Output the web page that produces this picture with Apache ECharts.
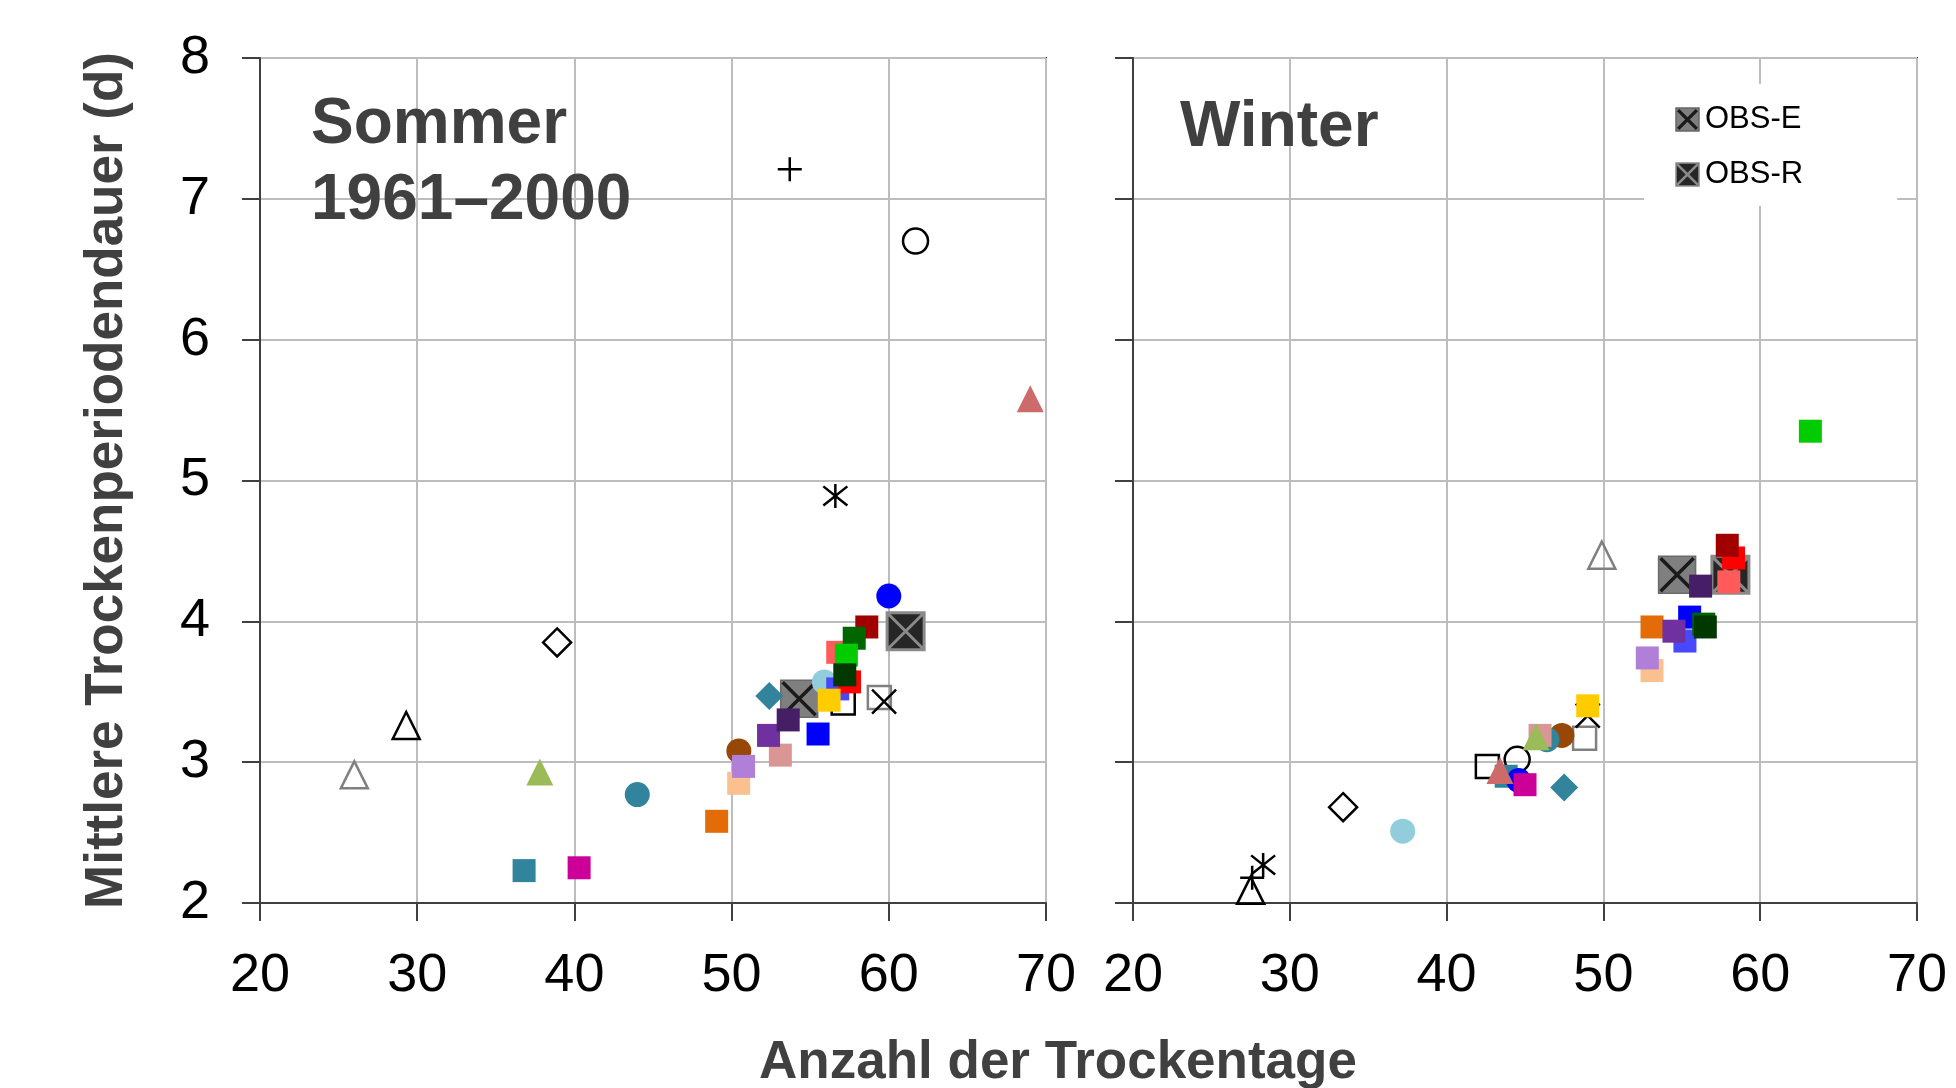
<!DOCTYPE html>
<html><head><meta charset="utf-8">
<script src="https://cdn.jsdelivr.net/npm/echarts@6/dist/echarts.min.js"></script>
<style>html,body{margin:0;padding:0;background:#fff}#c{width:1956px;height:1088px}</style>
</head><body><div id="c"></div>
<script>
// ---------- data ----------
const xTicks = [20, 30, 40, 50, 60, 70];
const yTicks = [2, 3, 4, 5, 6, 7, 8];
const panels = ['Sommer\n1961–2000', 'Winter'];
const xTitle = 'Anzahl der Trockentage';
const yTitle = 'Mittlere Trockenperiodendauer (d)';
const models = ['dunkelrot', 'rot', 'hellrot', 'dunkelgrün', 'grün', 'sehr dunkelgrün', 'blau', 'mittelblau', 'gelb',
  'dunkelviolett', 'violett', 'lavendel', 'rosa', 'pfirsich', 'orange', 'magenta', 'petrol Quadrat', 'petrol Raute',
  'petrol Kreis', 'braun Kreis', 'hellblau Kreis', 'blau Kreis', 'hellgrün Dreieck', 'altrosa Dreieck',
  'offener Kreis', 'offenes Quadrat', 'offenes Quadrat grau', 'offenes Dreieck', 'offenes Dreieck grau',
  'offene Raute', 'Plus', 'Kreuz', 'Stern'];
const summerX = [58.6, 57.5, 56.75, 57.8, 57.3, 57.2, 55.5, 56.75, 56.2, 53.6, 52.35, 50.76, 53.1, 50.45, 49.05, 40.3, 36.8, 52.4,
  44.0, 50.46, 55.9, 60.0, 37.8, 69.0, 61.7, 57.1, 59.4, 29.3, 26.0, 38.9, 53.7, 59.7, 56.6];
const summerY = [3.96, 3.57, 3.78, 3.88, 3.76, 3.62, 3.20, 3.52, 3.44, 3.30, 3.19, 2.97, 3.05, 2.85, 2.58, 2.25, 2.23, 3.47,
  2.77, 3.08, 3.57, 4.18, 2.93, 5.58, 6.70, 3.42, 3.46, 3.26, 2.91, 3.85, 7.21, 3.43, 4.89];
const winterX = [57.9, 58.3, 58.0, 56.4, 63.2, 56.5, 55.5, 55.2, 49.0, 56.2, 54.5, 52.8, 45.96, 53.1, 53.1, 45.0, 43.8, 47.5,
  46.4, 47.35, 37.2, 44.6, 45.7, 43.4, 44.5, 42.6, 48.8, 27.5, 49.9, 33.4, 27.6, 49.0, 28.3];
const winterY = [4.54, 4.45, 4.28, 3.98, 5.35, 3.96, 4.03, 3.86, 3.40, 4.25, 3.93, 3.74, 3.19, 3.65, 3.96, 2.84, 2.90, 2.82,
  3.16, 3.19, 2.51, 2.87, 3.18, 2.94, 3.02, 2.97, 3.17, 2.09, 4.47, 2.68, 2.18, 3.33, 2.27];
const obsNames = ['OBS-E', 'OBS-R'];
const obsSummer = [[54.3, 3.45], [61.07, 3.93]];
const obsWinter = [[54.7, 4.33], [58.1, 4.33]];

// ---------- styles ----------
const P_PLUS = 'path://M10,0L10,20M0,10L20,10';
const P_X = 'path://M0,0L20,20M20,0L0,20';
const P_STAR = 'path://M2,2L18,18M18,2L2,18M10,0L10,20';
const P_BOXX = 'path://M0,0L20,0L20,20L0,20ZM0,0L20,20M20,0L0,20';
const markerStyle = [
  ['rect', '#a00000'], ['rect', '#ff0000'], ['rect', '#ff5b5b'], ['rect', '#006600'], ['rect', '#00cc00'],
  ['rect', '#003800'], ['rect', '#0000ff'], ['rect', '#4848ff'], ['rect', '#ffcc00'], ['rect', '#461e66'],
  ['rect', '#7030a0'], ['rect', '#b07fd8'], ['rect', '#d99694'], ['rect', '#fac090'], ['rect', '#e36c09'],
  ['rect', '#cc0099'], ['rect', '#31849b'], ['diamond', '#31849b'], ['circle', '#31849b'], ['circle', '#974806'],
  ['circle', '#92cddc'], ['circle', '#0000ff'], ['triangle', '#9bbb59'], ['triangle', '#cd6b6b'],
  ['circle', '#000', true], ['rect', '#000', true], ['rect', '#808080', true], ['triangle', '#000', true],
  ['triangle', '#808080', true], ['diamond', '#000', true], [P_PLUS, '#000', true], [P_X, '#000', true], [P_STAR, '#000', true]
];
const symSize = { rect: 23, circle: 25, diamond: 28, triangle: 27 };
const drawOrder = [24, 25, 26, 27, 28, 29, 30, 31, 32, 16, 21, 15, 23, 19, 18, 12, 22, 17, 20, 13, 11, 14, 7, 6, 1, 2, 0, 3, 4, 5, 8, 10, 9];

const FONT = '"Liberation Sans", Arial, sans-serif';
const svgIcon = s => 'image://data:image/svg+xml;charset=utf-8,' + encodeURIComponent(s);
const iconE = svgIcon("<svg xmlns='http://www.w3.org/2000/svg' width='24' height='24'><rect x='1' y='1' width='22' height='22' fill='#7f7f7f' stroke='#666' stroke-width='1.5'/><path d='M3,3L21,21M21,3L3,21' stroke='#1a1a1a' stroke-width='3.2'/></svg>");
const iconR = svgIcon("<svg xmlns='http://www.w3.org/2000/svg' width='24' height='24'><rect x='1' y='1' width='22' height='22' fill='#262626' stroke='#8a8a8a' stroke-width='1.5'/><path d='M2,2L22,22M22,2L2,22' stroke='#8a8a8a' stroke-width='2.6'/></svg>");

const series = [];
[0, 1].forEach(p => {
  const obs = p === 0 ? obsSummer : obsWinter;
  const base = { type: 'scatter', xAxisIndex: p, yAxisIndex: p, silent: true, animation: false };
  series.push(Object.assign({}, base, { name: obsNames[0], symbol: 'rect', symbolSize: 37, data: [obs[0]],
    itemStyle: { color: '#7f7f7f', borderColor: '#6a6a6a', borderWidth: 1.5, opacity: 1 } }));
  series.push(Object.assign({}, base, { name: obsNames[0] + ' x', symbol: P_X, symbolSize: 33, data: [obs[0]],
    itemStyle: { color: 'rgba(0,0,0,0)', borderColor: '#1a1a1a', borderWidth: 3.5, opacity: 1 } }));
  series.push(Object.assign({}, base, { name: obsNames[1], symbol: P_BOXX, symbolSize: 37, data: [obs[1]],
    itemStyle: { color: '#262626', borderColor: '#8a8a8a', borderWidth: 3, opacity: 1 } }));
  drawOrder.forEach(i => {
    const st = markerStyle[i];
    const hollow = !!st[2];
    const sz = symSize[st[0]] || 24;
    const pt = p === 0 ? [summerX[i], summerY[i]] : [winterX[i], winterY[i]];
    series.push(Object.assign({}, base, {
      name: models[i], symbol: st[0], symbolSize: sz, data: [pt],
      itemStyle: hollow ? { color: 'rgba(0,0,0,0)', borderColor: st[1], borderWidth: 2.5, opacity: 1 }
                        : { color: st[1], opacity: 1 }
    }));
  });
});

const grids = [
  { left: 260, right: 910, top: 58, bottom: 185 },
  { left: 1133, right: 39, top: 58, bottom: 185 }
];
const axisLine = { show: true, lineStyle: { color: '#404040', width: 2 } };
const gridLine = { show: true, lineStyle: { color: '#bdbdbd', width: 2 } };

const option = {
  backgroundColor: '#fff',
  animation: false,
  grid: grids.map(g => Object.assign({ show: true, borderColor: '#404040', borderWidth: 2, backgroundColor: 'transparent' }, g)),
  xAxis: [0, 1].map(p => ({
    type: 'value', gridIndex: p, min: xTicks[0], max: xTicks[xTicks.length - 1], interval: xTicks[1] - xTicks[0],
    axisLine, axisTick: { show: true, length: 18, lineStyle: { color: '#404040', width: 2 } },
    splitLine: gridLine,
    axisLabel: { fontSize: 54, color: '#000', fontFamily: FONT, margin: 46 }
  })),
  yAxis: [0, 1].map(p => ({
    type: 'value', gridIndex: p, min: yTicks[0], max: yTicks[yTicks.length - 1], interval: yTicks[1] - yTicks[0],
    axisLine, axisTick: { show: true, length: 18, lineStyle: { color: '#404040', width: 2 } },
    splitLine: gridLine,
    axisLabel: { show: p === 0, fontSize: 54, color: '#000', fontFamily: FONT, margin: 50 },
    name: p === 0 ? yTitle : '', nameLocation: 'middle', nameGap: 126, nameRotate: 90,
    nameTextStyle: { fontSize: 53, fontWeight: 'bold', color: '#404040', fontFamily: FONT }
  })),
  legend: {
    data: [{ name: obsNames[0], icon: iconE }, { name: obsNames[1], icon: iconR }],
    orient: 'vertical', left: 1644, top: 84, padding: [20, 94, 16, 31],
    itemWidth: 25, itemHeight: 25, itemGap: 24, backgroundColor: '#fff',
    textStyle: { fontSize: 31, color: '#000', fontFamily: FONT }, selectedMode: false
  },
  graphic: [
    { type: 'text', left: 311, top: 87, z: 10,
      style: { text: panels[0], font: 'bold 64px ' + FONT, fill: '#404040', lineHeight: 76 } },
    { type: 'text', left: 1180, top: 90, z: 10,
      style: { text: panels[1], font: 'bold 64px ' + FONT, fill: '#404040', lineHeight: 76 } },
    { type: 'text', x: 1058, y: 1063, z: 10,
      style: { text: xTitle, font: 'bold 53px ' + FONT, fill: '#404040', textAlign: 'center', textVerticalAlign: 'middle' } }
  ],
  series
};
const chart = echarts.init(document.getElementById('c'), null, { renderer: 'canvas' });
chart.setOption(option);
</script></body></html>
